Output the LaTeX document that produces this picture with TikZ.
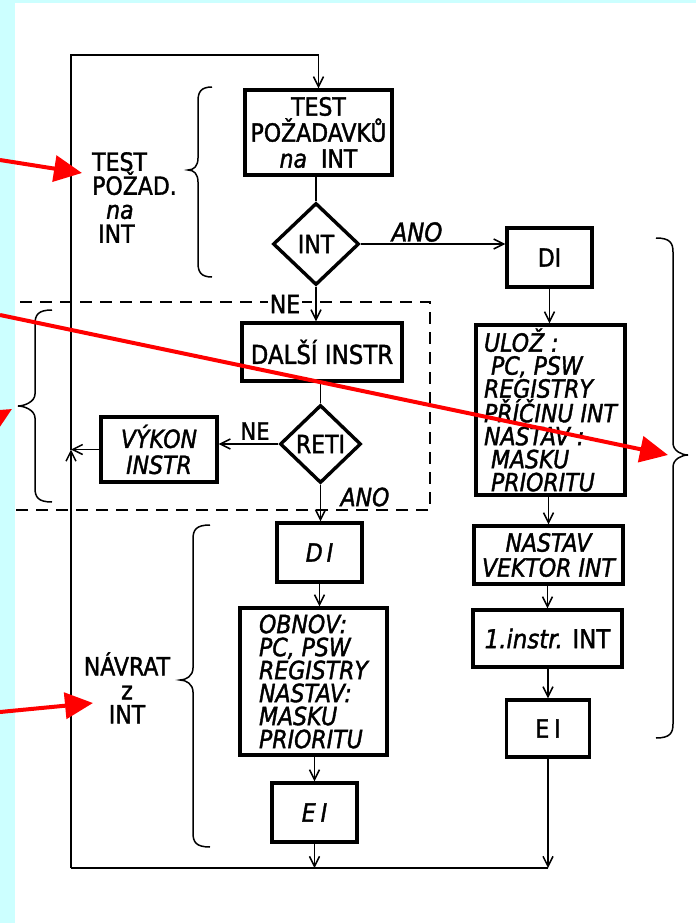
\documentclass[tikz,border=0pt]{standalone}
\usepackage{fontspec}
\setmainfont{DejaVu Sans}[FakeStretch=0.88, FakeBold=1.5]
\usetikzlibrary{shapes.geometric,arrows.meta}
\definecolor{bgcyan}{RGB}{204,255,255}
\definecolor{pointer}{RGB}{255,0,0}

% curly brace: #1 end x, #2 spine x, #3 cusp x, #4 top y, #5 cusp y, #6 bottom y, #7 +1 for "{", -1 for "}"
\newcommand\bracepath[7]{%
  \draw[brace] (#1,#4) .. controls ({#2+3*#7},#4) and (#2,{#4+5}) .. (#2,{#4+14})
    -- (#2,{#5-12}) .. controls (#2,{#5-4}) and ({#3+6*#7},#5) .. (#3,#5)
    .. controls ({#3+6*#7},#5) and (#2,{#5+4}) .. (#2,{#5+12})
    -- (#2,{#6-14}) .. controls (#2,{#6-5}) and ({#2+3*#7},#6) .. (#1,#6);}

\begin{document}
\begin{tikzpicture}[x=1pt,y=-1pt,
  box/.style={draw, line width=3.4pt, inner sep=0pt, align=center,
              font=\fontsize{25}{26}\selectfont},
  dia/.style={draw, diamond, line width=3.4pt, inner sep=0pt,
              font=\fontsize{25}{26}\selectfont},
  flow/.style={line width=1.5pt, -{Straight Barb[length=10pt,width=10pt]}},
  wire/.style={line width=1.5pt},
  brace/.style={line width=1.5pt},
  lbl/.style={inner sep=0pt, font=\fontsize{25}{24}\selectfont},
  pointer/.style={draw=pointer, line width=4pt,
                  -{Triangle[length=28pt,width=26pt]}},
  dashbox/.style={line width=1.8pt, dash pattern=on 12pt off 8pt}
  ]
\useasboundingbox (0,0) rectangle (696,923);
\clip (0,0) rectangle (696,923);
\fill[white] (0,0) rectangle (696,923);

% ---- main column ----
\node[box, minimum width=147pt, minimum height=85pt] (tpi) at (318.5,132.5)
  {TEST\\POŽADAVKŮ\\{\itshape na}\ \ INT};
\node[dia, minimum width=86pt, minimum height=82pt] (intd) at (316,244) {INT};
\node[box, minimum width=160pt, minimum height=58pt, font=\fontsize{26}{26}\selectfont]
  (dalsi) at (322,352) {DALŠÍ INSTR};
\node[dia, minimum width=81pt, minimum height=78pt] (reti) at (320.5,444) {RETI};
\node[box, minimum width=116pt, minimum height=65pt, font=\fontsize{25}{26}\selectfont\itshape]
  (vykon) at (159,449.5) {VÝKON\\INSTR};
\node[box, minimum width=85pt, minimum height=59pt, font=\fontsize{25}{26}\selectfont\itshape]
  (di2) at (319.5,552.5) {D\hspace{4pt}I};
\node[box, minimum width=147pt, minimum height=147pt, align=left,
      font=\fontsize{25}{23}\selectfont\itshape]
  (obnov) at (313.5,681.5) {OBNOV:\\PC, PSW\\REGISTRY\\NASTAV:\\MASKU\\PRIORITU};
\node[box, minimum width=85pt, minimum height=59pt, font=\fontsize{25}{26}\selectfont\itshape]
  (ei2) at (314.5,812.5) {E\hspace{5pt}I};

% ---- right column ----
\node[box, minimum width=85pt, minimum height=59pt] (di1) at (549.5,257.5) {DI};
\node[box, minimum width=149pt, minimum height=170pt, align=left,
      font=\fontsize{25}{23}\selectfont\itshape]
  (uloz) at (550.5,410) {ULOŽ :\\\ PC, PSW\\REGISTRY\\PŘÍČINU INT\\NASTAV :\\\ MASKU\\\ PRIORITU};
\node[box, minimum width=149pt, minimum height=58pt, font=\fontsize{25}{25}\selectfont\itshape]
  (vektor) at (548.5,555) {NASTAV\\VEKTOR INT};
\node[box, minimum width=149pt, minimum height=57pt, font=\fontsize{26}{25}\selectfont]
  (instr) at (547.5,638.5) {{\itshape 1.instr.} INT};
\node[box, minimum width=83pt, minimum height=57pt] (ei1) at (548,728.5) {E\hspace{5pt}I};

% ---- loop corners ----
\coordinate (lt) at (71,55);
\coordinate (lb) at (71,868);
\coordinate (rb) at (ei1.south |- lb);
\coordinate (jn) at (lb |- vykon.west);

% ---- dashed group ----
\draw[dashbox] (-20,302) -- (430,302) -- (430,510) -- (-20,510);

% ---- connectors ----
\draw[wire] (intd.north |- tpi.south) -- (intd.north);
\draw[flow] (intd.south) -- (intd.south |- dalsi.north);
\draw[flow] (intd.east) -- (di1.west |- intd.east);
\draw[wire] (reti.north |- dalsi.south) -- (reti.north);
\draw[flow] (reti.west) -- (vykon.east |- reti.west);
\draw[flow] (vykon.west) -- (jn);
\draw[flow] (reti.south) -- (reti.south |- di2.north);
\draw[flow] (di2.south) -- (di2.south |- obnov.north);
\draw[flow] (ei2.north |- obnov.south) -- (ei2.north);
\draw[flow] (ei2.south) -- (ei2.south |- lb);
\draw[flow] (di1.south) -- (di1.south |- uloz.north);
\draw[flow] (vektor.north |- uloz.south) -- (vektor.north);
\draw[flow] (instr.north |- vektor.south) -- (instr.north);
\draw[flow] (ei1.north |- instr.south) -- (ei1.north);
\draw[flow] (ei1.south) -- (rb);
\draw[wire] (rb) -- (lb);
\draw[flow] (lb) -- (jn);
\draw[flow] (jn) -- (lt) -| (tpi.north);

% ---- branch labels ----
\node[lbl, font=\fontsize{26}{24}\selectfont\itshape] (ano1) at (417,232) {ANO};
\node[lbl, fill=white, inner sep=1.5pt] (ne1) at (285,304) {NE};
\node[lbl, font=\fontsize{24}{24}\selectfont] (ne2) at (255,431) {NE};
\node[lbl, font=\fontsize{25}{24}\selectfont\itshape] (ano2) at (365,497) {ANO};

% ---- side captions ----
\node[lbl, align=left, anchor=north west] (testlbl) at (92,152)
  {TEST\\POŽAD.\\\hspace*{14pt}{\itshape na}\\\hspace*{6pt}INT};
\node[lbl, align=center, anchor=north] (navrat) at (127,652)
  {NÁVRAT\\z\\INT};

% ---- braces ----
\bracepath{212}{198}{188}{87}{170}{277}{1}
\bracepath{52}{35}{18}{310}{406}{502}{1}
\bracepath{210}{193}{180}{525}{680}{847}{1}
\bracepath{656}{673}{688}{238}{455}{738}{-1}

% ---- page frame ----
\fill[bgcyan] (0,0) rectangle (15,923);
\fill[bgcyan] (0,0) rectangle (696,3);

% ---- pointers ----
\coordinate (p1a) at (0,160);   \coordinate (p1b) at (82,173);
\coordinate (p2a) at (0,315);   \coordinate (p2b) at (668,455);
\coordinate (p3a) at (-57,449); \coordinate (p3b) at (12,409);
\coordinate (p4a) at (0,712);   \coordinate (p4b) at (93,703);
\draw[pointer] (p1a) -- (p1b);
\draw[pointer] (p2a) -- (p2b);
\draw[pointer] (p3a) -- (p3b);
\draw[pointer] (p4a) -- (p4b);
\end{tikzpicture}
\end{document}
